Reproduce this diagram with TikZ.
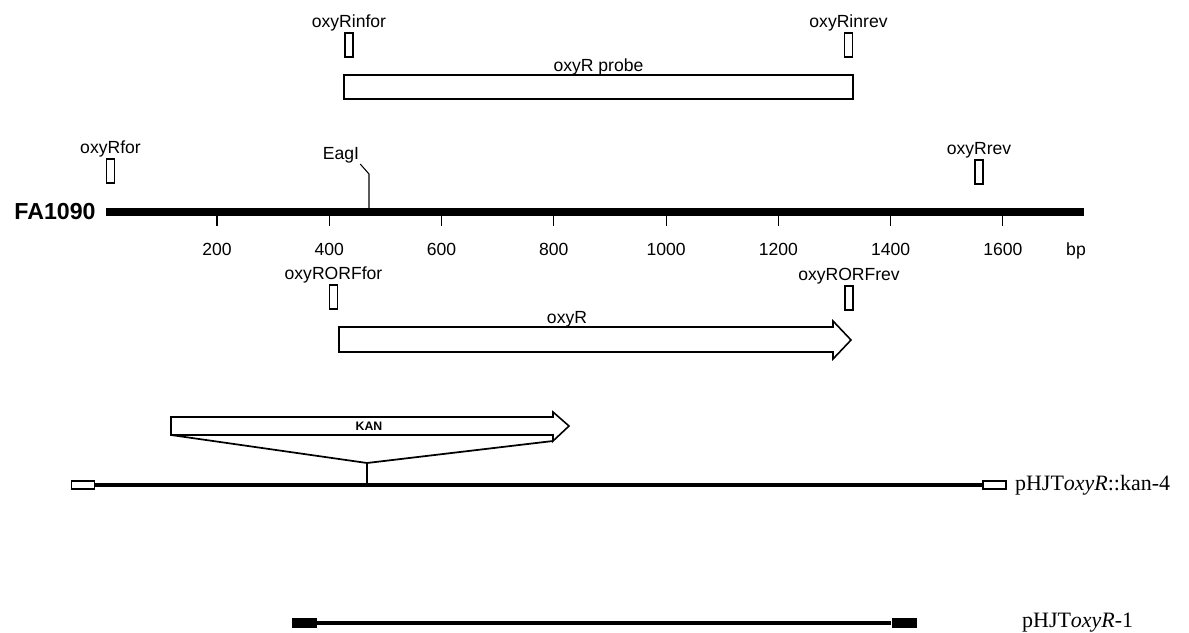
\documentclass[tikz,border=0pt]{standalone}
\usepackage{fontspec}
\setmainfont{Liberation Serif}
\setsansfont{Liberation Sans}
\usetikzlibrary{positioning}
\tikzset{
  primer/.style   = {draw, line width=0.6pt, minimum width=0.16cm, minimum height=0.48cm, inner sep=0pt},
  plabel/.style   = {font=\sffamily\fontsize{10}{12}\selectfont, inner sep=0.5pt},
  genome/.style   = {line width=0.16cm},
  construct/.style= {line width=0.08cm},
  gene/.style     = {draw, line width=0.9pt, line join=miter},
  endbox/.style   = {draw, line width=0.9pt, fill=white, minimum width=0.46cm, minimum height=0.17cm, inner sep=0pt},
  endblock/.style = {fill=black, minimum width=0.5cm, minimum height=0.2cm, inner sep=0pt},
  cname/.style    = {font=\fontsize{12.5}{14}\selectfont, inner sep=0pt}
}

\begin{document}
\begin{tikzpicture}[x=0.02cm, y=-0.02cm]
  \fill[white] (0,0) rectangle (1189,632);

  % probe and its primers
  \node[primer] (infor) at (349,45) {};
  \node[primer] (inrev) at (848.5,45) {};
  \node[plabel, above=0pt of infor] (inforlab) {oxyRinfor};
  \node[plabel, above=0pt of inrev] (inrevlab) {oxyRinrev};
  \node[draw, line width=0.9pt, minimum width=10.18cm, minimum height=0.48cm, inner sep=0pt] (probe) at (598.5,87) {};
  \node[plabel, above=-1pt of probe] (probelab) {oxyR probe};

  % FA1090 chromosome
  \coordinate (g0) at (106,212);
  \coordinate (g1) at (1084,212);
  \draw[genome] (g0) -- (g1);
  \node[font=\sffamily\bfseries\fontsize{13.2}{15}\selectfont, inner sep=0pt, left=0.2cm of g0] (fa) {FA1090};
  \node[primer] (rfor) at (110.5,171) {};
  \node[primer] (rrev) at (979,172) {};
  \node[plabel, above=0pt of rfor] (rforlab) {oxyRfor};
  \node[plabel, above=0pt of rrev] (rrevlab) {oxyRrev};
  \coordinate (eagcut) at (369,208);
  \node[plabel] (eagl) at (341,155) {EagI};
  \draw[line width=0.6pt] (eagcut) -- ++(0,-34) -- (eagl.south east);
  \foreach \bp in {200,400,...,1600} {
    \draw[line width=0.6pt] ({104.7+0.5614*\bp},216) -- ++(0,10);
    \node[plabel] (t\bp) at ({104.7+0.5614*\bp},249) {\bp};
  }
  \node[plabel] (bp) at (1076,251) {bp};

  % oxyR ORF
  \node[primer] (orffor) at (333.5,297) {};
  \node[primer] (orfrev) at (849,298) {};
  \node[plabel, above=0pt of orffor] (orfforlab) {oxyRORFfor};
  \node[plabel, above=0pt of orfrev] (orfrevlab) {oxyRORFrev};
  \draw[gene] (339,327) -- (833,327) -- (833,321) -- (851,340) -- (833,359) -- (833,352) -- (339,352) -- cycle;
  \node[plabel, above=-1pt] (orflab) at (567,327) {oxyR};

  % kan insertion
  \draw[gene] (171,417) -- (553,417) -- (553,412) -- (569,426) -- (553,441) -- (553,435) -- (171,435) -- cycle;
  \node[font=\sffamily\bfseries\fontsize{7}{8}\selectfont] (kan) at (369,426) {KAN};
  \coordinate (kanL) at (171,435);
  \coordinate (kanR) at (553,441);
  \coordinate (ins) at (367,463);
  \coordinate (inscut) at (367,485);
  \draw[line width=1pt] (kanL) -- (ins) -- (kanR);
  \draw[line width=1pt] (ins) -- (inscut);

  % pHJToxyR::kan-4
  \node[endbox] (k4l) at (83,485) {};
  \node[endbox] (k4r) at (994.5,485) {};
  \draw[construct] (k4l) -- (k4r);
  \node[cname, right=0.16cm of k4r] (k4lab) {pHJT\textit{oxyR}::kan-4};

  % pHJToxyR-1
  \node[endblock] (r1l) at (304.5,623) {};
  \node[endblock] (r1r) at (904,623) {};
  \draw[construct] (r1l) -- (r1r);
  \node[cname, right=2.1cm of r1r] (r1lab) {pHJT\textit{oxyR}-1};
\end{tikzpicture}
\end{document}
